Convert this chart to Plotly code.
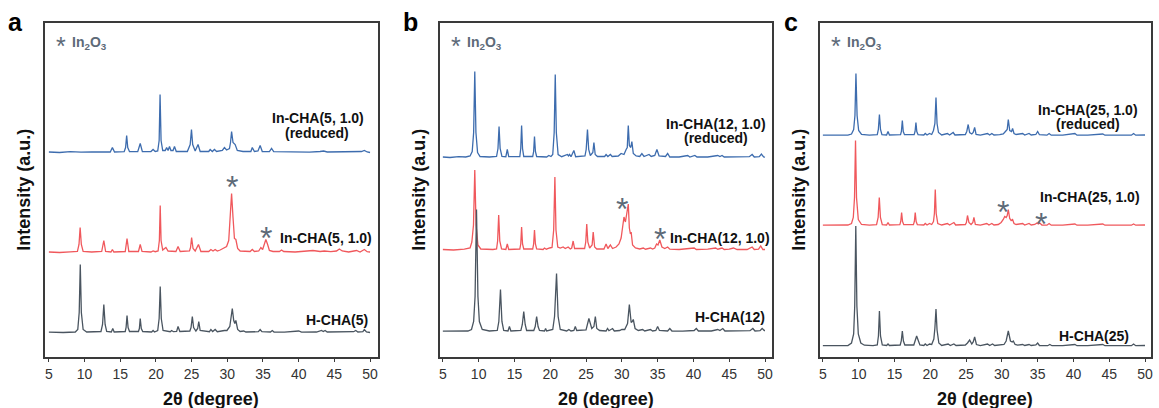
import plotly.graph_objects as go

# ---------------- data: (2theta, intensity above baseline) ----------------
a_reduced = [(5.0,0.5),(6.5,0),(8.0,0.8),(9.5,0.3),(11.0,0.6),(12.5,0.4),(13.6,0.5),(13.9,5),(14.2,0.5),(15.55,0.8),(15.75,5),(15.9,17),(16.05,5),(16.3,0.8),(17.45,0.8),(17.8,9),(18.1,0.8),(19.3,1),(19.6,3),(19.9,1),(20.25,1.5),(20.45,12),(20.58,58),(20.72,12),(20.95,2),(21.3,2),(21.5,5),(21.7,2),(21.9,6),(22.1,2),(22.4,2),(22.6,6),(22.85,1),(24.4,1),(24.8,8),(24.98,23),(25.15,8),(25.5,1.5),(25.9,8),(26.2,1),(27.4,1),(27.6,3),(27.9,1),(28.2,3),(28.5,1),(29.3,2),(29.6,5),(29.9,2.5),(30.3,4),(30.45,10),(30.6,21),(30.8,10),(31.1,8),(31.4,2),(32.2,1),(33.3,1),(33.5,5),(33.8,1),(34.3,1.5),(34.6,7),(34.9,1),(35.9,0.8),(36.2,4),(36.5,0.8),(38.0,0.5),(40.0,0.8),(41.5,0.3),(43.0,1),(43.5,1.5),(44.0,0.5),(46.0,0.8),(48.1,0.5),(48.8,1),(49.2,2),(49.6,0.5),(50.0,0)]
a_incha = [(5.0,0.5),(6.5,0),(8.0,0.6),(9.0,1),(9.22,8),(9.38,25),(9.55,8),(9.8,1),(11.0,0.5),(12.4,1),(12.7,12),(12.95,1),(13.7,0.5),(13.9,3),(14.1,0.5),(15.7,1),(15.95,14),(16.2,1),(17.55,1),(17.8,8),(18.05,1),(19.3,0.5),(19.6,1.5),(19.9,0.8),(20.3,1.5),(20.48,12),(20.6,47),(20.72,12),(20.95,2.5),(21.4,5),(21.7,1.5),(22.8,1),(23.1,6),(23.4,1),(24.7,1.5),(24.85,5),(25.0,15),(25.2,4),(25.5,1.5),(25.96,8),(26.3,1),(27.4,1),(27.7,3),(28.0,1.5),(28.3,3),(28.6,1.5),(29.0,2.5),(29.5,4),(29.9,6),(30.2,12),(30.4,35),(30.6,59),(30.8,35),(31.0,14),(31.2,13),(31.45,4),(31.8,1.5),(32.5,1),(33.2,1),(33.5,3),(33.8,1),(34.4,1.5),(34.7,5),(34.95,3),(35.15,8),(35.4,13),(35.65,8),(35.9,2),(36.4,1),(37.3,1),(37.6,2.5),(37.9,1),(39.5,0.5),(40.5,1),(42.0,2),(43.0,1),(43.6,1.5),(44.5,0.8),(45.3,1.5),(45.7,3.5),(46.1,1.5),(47.0,0.5),(48.1,2),(48.6,0.5),(49.2,3),(49.6,0.8),(50.0,0.5)]
a_hcha = [(5.0,0.3),(7.0,0),(8.7,0.5),(9.05,3),(9.25,20),(9.4,68),(9.55,20),(9.8,3),(10.3,0.5),(12.3,1),(12.52,8),(12.7,28),(12.88,8),(13.1,1),(13.75,0.5),(13.95,4),(14.15,0.5),(15.7,1),(15.82,5),(15.95,17),(16.1,5),(16.3,1),(17.55,1),(17.68,4),(17.8,14),(17.95,4),(18.15,1),(19.4,0.5),(19.6,2),(19.8,0.5),(20.25,2),(20.45,14),(20.6,46),(20.75,14),(21.0,2),(22.0,0.8),(22.2,2),(22.45,0.8),(22.9,1),(23.1,6),(23.35,1),(24.75,1.5),(24.92,5),(25.1,16),(25.28,5),(25.6,1.5),(25.85,4),(26.0,11),(26.2,2),(27.5,0.8),(27.7,3),(27.95,1),(28.3,3),(28.6,0.8),(29.6,2),(29.95,2),(30.35,6),(30.55,20),(30.7,24),(30.9,12),(31.05,9),(31.2,12),(31.45,3),(31.8,1),(32.3,1.5),(32.6,0.5),(34.35,0.8),(34.6,3),(34.85,0.8),(36.05,0.5),(36.3,2),(36.55,0.5),(38.0,0.3),(40.0,1.5),(40.4,0.3),(42.5,0.5),(43.2,2),(43.45,1),(43.7,2),(44.0,0.5),(46.0,0.3),(47.7,0.8),(48.0,2),(48.3,0.5),(49.0,0.8),(49.2,3),(49.5,0.5),(50.0,0)]

b_reduced = [(5.0,0.5),(6.0,0),(7.2,0.8),(8.2,0.5),(8.8,1.5),(9.1,6),(9.3,25),(9.46,86),(9.62,25),(9.85,5),(10.2,1),(11.5,0.5),(12.5,1),(12.7,9),(12.85,31),(13.0,9),(13.25,1),(13.8,0.8),(14.0,8),(14.2,0.8),(15.75,1),(15.88,9),(16.0,32),(16.13,9),(16.3,1),(17.55,1),(17.68,6),(17.8,21),(17.93,6),(18.1,1),(19.5,0.5),(19.8,2),(20.1,1),(20.35,3),(20.55,25),(20.7,83),(20.85,25),(21.1,3),(21.6,0.8),(22.4,3),(22.55,1.5),(22.7,3),(22.9,0.8),(23.3,7),(23.55,0.8),(24.85,1.5),(25.02,8),(25.2,28),(25.37,8),(25.6,2),(25.95,5),(26.1,15),(26.28,3),(26.6,1),(27.6,1),(27.8,3),(28.05,1),(28.4,3),(28.65,1),(29.5,1.5),(29.9,4),(30.3,3),(30.6,8),(30.76,10),(30.9,32),(31.05,12),(31.25,10),(31.4,16),(31.6,4),(32.0,1.5),(32.5,1),(32.8,4),(33.1,1),(33.8,3),(34.1,1),(34.6,2),(34.9,8),(35.2,1.5),(36.1,1),(36.4,4),(36.7,0.5),(38.0,0.5),(39.2,2),(39.5,0.5),(40.2,2),(40.5,0.5),(42.0,0.5),(43.4,2),(43.7,1),(44.0,2),(44.3,0.5),(46.0,0.3),(47.8,0.8),(48.2,3),(48.5,0.5),(49.2,0.8),(49.5,3.5),(49.8,0.5),(50.0,0.3)]
b_incha = [(5.0,0.5),(6.5,0),(8.0,0.8),(8.8,2),(9.05,8),(9.28,25),(9.46,80),(9.64,25),(9.9,5),(10.3,1),(12.0,0.5),(12.5,1),(12.65,9),(12.8,35),(12.95,9),(13.2,1),(13.8,0.5),(14.0,6),(14.2,0.5),(15.75,1),(15.88,6),(16.0,23),(16.13,6),(16.3,1),(17.55,1),(17.68,6),(17.8,20),(17.93,6),(18.1,1),(19.0,0.5),(19.2,2),(19.45,0.8),(19.9,2),(20.25,2.5),(20.48,20),(20.65,73),(20.8,20),(21.05,3),(21.4,2),(21.8,3),(22.1,1.5),(22.5,3),(22.8,1),(23.0,2),(23.2,9),(23.4,1.5),(24.8,1.5),(24.96,8),(25.1,26),(25.25,8),(25.5,2),(25.85,5),(26.0,18),(26.2,3),(26.5,1),(27.5,1),(27.8,6),(28.05,1.5),(28.4,5),(28.7,1.5),(29.2,3),(29.6,6),(29.9,12),(30.1,22),(30.3,33),(30.5,28),(30.7,38),(30.9,46),(31.05,22),(31.2,16),(31.3,18),(31.5,5),(31.9,2),(32.5,1),(33.0,2),(33.3,0.8),(34.0,2),(34.3,1),(34.6,2),(34.85,6),(35.05,5),(35.3,10),(35.6,3),(36.0,1.5),(36.4,3),(36.7,0.8),(38.0,0.5),(40.1,2),(40.4,0.5),(42.0,0.8),(43.1,2),(43.4,0.8),(44.0,2),(44.3,0.5),(45.0,0.8),(45.6,2),(46.1,0.5),(47.5,0.5),(48.2,3),(48.5,0.5),(49.1,0.8),(49.4,4),(49.7,0.5),(50.0,0.5)]
b_hcha = [(5.0,0.3),(7.0,0),(8.5,0.5),(9.0,2),(9.3,10),(9.5,35),(9.7,122),(9.9,35),(10.1,10),(10.5,2),(11.5,0.5),(12.6,1),(12.82,10),(13.05,42),(13.25,10),(13.5,1),(14.1,0.5),(14.3,5),(14.5,0.5),(15.9,1),(16.1,7),(16.3,20),(16.5,7),(16.7,1),(17.7,1),(17.9,5),(18.1,15),(18.3,5),(18.5,1),(19.2,0.5),(19.35,3),(19.5,0.5),(20.35,2),(20.6,15),(20.88,58),(21.1,15),(21.4,2),(22.3,0.5),(22.6,2),(22.9,0.5),(23.3,1),(23.5,5),(23.7,1),(25.0,1.5),(25.4,13),(25.8,3),(26.1,5),(26.3,15),(26.5,3),(26.9,1),(27.8,0.5),(28.0,3),(28.2,0.8),(28.7,3),(28.95,0.5),(29.7,1),(30.0,2),(30.4,2),(30.8,8),(31.05,27),(31.3,9),(31.45,10),(31.6,12),(31.85,3),(32.3,1),(32.9,2),(33.2,0.5),(34.0,2),(34.3,0.5),(34.75,1),(35.0,5),(35.25,1),(36.4,0.5),(36.7,3),(37.0,0.5),(38.5,0.3),(40.1,1),(40.4,3),(40.7,0.5),(42.5,0.5),(43.4,2),(43.7,1),(44.1,3),(44.4,0.5),(46.0,0.3),(47.9,0.8),(48.3,3),(48.6,0.5),(49.3,0.8),(49.6,3),(49.9,1),(50.0,1)]

c_reduced = [(5.0,0.3),(7.0,0),(8.5,0.3),(9.0,1.5),(9.3,6),(9.48,20),(9.62,62),(9.78,20),(10.0,5),(10.4,1),(11.5,0.3),(12.6,0.8),(12.75,6),(12.9,21),(13.05,6),(13.25,0.8),(13.9,0.5),(14.1,4),(14.3,0.5),(15.85,0.8),(15.97,4),(16.1,15),(16.23,4),(16.4,0.8),(17.75,0.8),(17.88,4),(18.0,13),(18.12,4),(18.3,0.8),(19.1,0.5),(19.3,2),(19.55,0.5),(19.9,2),(20.2,1),(20.45,5),(20.65,12),(20.8,38),(20.95,12),(21.15,3),(21.6,0.5),(22.4,2),(22.7,0.5),(23.2,3),(23.45,0.5),(24.9,1),(25.1,4),(25.3,11),(25.5,3),(25.8,1.5),(26.0,3),(26.2,8),(26.4,1),(27.0,0.3),(28.0,2),(28.3,0.5),(28.6,2),(28.9,0.5),(29.7,0.8),(30.2,1.5),(30.5,4),(30.75,6),(30.9,16),(31.1,5),(31.35,4),(31.5,7),(31.7,2),(32.0,1),(32.9,2),(33.2,0.5),(33.8,2),(34.1,0.5),(34.75,1),(35.0,4),(35.25,0.8),(36.3,0.3),(36.6,2),(36.9,0.3),(38.5,0.3),(40.2,2),(40.5,0.3),(42.0,0.3),(44.1,1.5),(44.4,0.3),(46.0,0.3),(48.1,0.3),(48.4,2),(48.7,0.3),(50.0,0.5)]
c_incha = [(5.0,0.3),(7.0,0),(8.5,0.5),(9.0,2),(9.25,8),(9.42,28),(9.56,85),(9.7,28),(9.95,6),(10.4,1),(11.5,0.3),(12.5,0.8),(12.72,8),(12.88,28),(13.04,8),(13.3,0.8),(13.9,0.5),(14.1,3),(14.3,0.5),(15.75,0.8),(15.88,4),(16.0,13),(16.13,4),(16.3,0.8),(17.65,0.8),(17.78,4),(17.9,13),(18.03,4),(18.2,0.8),(19.1,0.5),(19.3,2),(19.55,0.5),(19.9,2),(20.2,1),(20.45,4),(20.58,12),(20.7,36),(20.83,12),(21.05,2),(21.6,0.5),(22.4,2),(22.7,0.5),(23.3,3),(23.55,0.5),(24.9,1),(25.05,3),(25.2,10),(25.4,3),(25.7,1),(25.95,3),(26.1,8),(26.3,1),(27.0,0.3),(27.9,2),(28.2,0.5),(28.6,2),(28.9,0.5),(29.5,1),(29.9,3),(30.2,6),(30.4,9),(30.6,8),(30.75,10),(30.9,16),(31.1,7),(31.3,5),(31.5,6),(31.7,2),(32.0,1),(32.9,2),(33.2,0.5),(33.8,2),(34.1,0.5),(34.6,1),(34.9,2.5),(35.1,1.5),(35.3,2.5),(35.6,0.5),(36.3,0.3),(36.6,2),(36.9,0.3),(38.5,0.3),(40.2,1.5),(40.5,0.3),(42.0,0.3),(44.1,1.5),(44.4,0.3),(46.0,0.3),(48.1,0.3),(48.4,1.5),(48.7,0.3),(50.0,0.5)]
c_hcha = [(5.0,0.3),(7.0,0),(8.5,0.5),(9.0,3),(9.3,12),(9.45,40),(9.6,120),(9.75,40),(9.95,12),(10.3,3),(10.8,0.8),(12.0,0.3),(12.6,1),(12.76,10),(12.9,35),(13.05,10),(13.3,1),(13.9,0.5),(14.1,2),(14.3,0.5),(15.8,1),(15.95,5),(16.1,15),(16.25,5),(16.45,1),(17.7,1),(17.9,6),(18.1,10),(18.3,6),(18.55,1),(19.1,0.5),(19.3,2),(19.55,0.5),(19.9,2),(20.2,1.5),(20.5,7),(20.65,18),(20.8,37),(20.95,16),(21.2,3),(21.6,0.5),(22.5,2),(22.8,0.5),(23.3,2),(23.6,0.5),(24.9,1),(25.2,3),(25.5,6),(25.8,2),(26.0,4),(26.2,9),(26.45,1.5),(27.0,0.3),(28.0,2),(28.3,0.5),(28.7,2),(29.0,0.5),(29.8,0.8),(30.3,1.5),(30.6,5),(30.9,15),(31.2,5),(31.45,4),(31.6,5),(31.85,1.5),(32.2,0.8),(32.9,1.5),(33.2,0.5),(33.8,1.5),(34.1,0.5),(34.75,1),(35.0,3),(35.25,0.5),(36.4,0.3),(36.7,1.5),(37.0,0.3),(38.5,0.3),(40.2,1.5),(40.5,0.3),(42.0,0.3),(44.1,1.5),(44.4,0.3),(46.0,0.3),(48.1,0.3),(48.4,2),(48.7,0.3),(50.0,0.5)]

series_names = ["reduced", "In-CHA", "H-CHA"]
panel_letters = ["a", "b", "c"]
si_ratios = ["5", "12", "25"]
impurity_peaks = [[30.6, 35.4], [30.0, 35.4], [30.2, 35.4]]   # In2O3 reflections marked with *
x_ticks = [5, 10, 15, 20, 25, 30, 35, 40, 45, 50]

# ---------------- layout constants ----------------
W, H = 1159, 408
BLUE, RED, GRAY = "#3d6cae", "#f0585c", "#4a5560"
STAR = "#5d6a78"
FONT = "Arial, Liberation Sans, sans-serif"
offsets = [[204, 104, 24], [199, 106.5, 25], [221, 131, 10.5]]
xdom_px = [(44, 378), (440, 773), (821, 1153)]
xranges = [[4.441, 51.118], [4.582, 50.975], [4.582, 50.836]]
ytop_px, ybot_px = 23, 356.5
star_y = [[178.5, 127.5], [156.5, 126.5], [153.5, 141.5]]
label_pos = [  # (x_center_px, y_center_px) for reduced line1, line2, In-CHA, H-CHA
    [(318, 118), (317, 133), (326, 238), (337, 320)],
    [(717, 124), (717, 138), (721, 238), (731, 317)],
    [(1090, 110), (1090, 124), (1092, 197), (1096, 336)],
]

data = [[a_reduced, a_incha, a_hcha], [b_reduced, b_incha, b_hcha], [c_reduced, c_incha, c_hcha]]
colors = [BLUE, RED, GRAY]

def px(x):
    return x / W

def py(y):
    return 1 - y / H

fig = go.Figure()
annotations = []
for p in range(3):
    sfx = "" if p == 0 else str(p + 1)
    for s in range(3):
        pts = data[p][s]
        fig.add_trace(go.Scatter(
            x=[q[0] for q in pts],
            y=[q[1] + offsets[p][s] for q in pts],
            mode="lines", line=dict(color=colors[s], width=1.3),
            xaxis="x" + sfx, yaxis="y" + sfx, showlegend=False, hoverinfo="skip"))
    x0, x1 = xdom_px[p]
    fig.layout["xaxis" + sfx] = dict(
        domain=[px(x0), px(x1)], range=xranges[p], anchor="y" + sfx,
        showline=True, mirror=True, linecolor="#3a3a3a", linewidth=1.5,
        ticks="outside", ticklen=4, tickwidth=1, tickcolor="#3a3a3a",
        tickvals=x_ticks, tickfont=dict(family=FONT, size=14, color="#333333"),
        showgrid=False, zeroline=False)
    fig.layout["yaxis" + sfx] = dict(
        domain=[py(ybot_px), py(ytop_px)], range=[0, ybot_px - ytop_px], anchor="x" + sfx,
        showline=True, mirror=True, linecolor="#3a3a3a", linewidth=1.5,
        showticklabels=False, ticks="", showgrid=False, zeroline=False)
    cx = (x0 + x1) / 2
    # axis titles
    annotations.append(dict(x=px(cx), y=py(399), xref="paper", yref="paper", text="<b>2θ (degree)</b>",
                            showarrow=False, font=dict(family=FONT, size=18, color="#111111"),
                            xanchor="center", yanchor="middle"))
    annotations.append(dict(x=px(x0 - 21), y=py((ytop_px + ybot_px) / 2), xref="paper", yref="paper",
                            text="<b>Intensity (a.u.)</b>", textangle=-90, showarrow=False,
                            font=dict(family=FONT, size=18, color="#111111"),
                            xanchor="center", yanchor="middle"))
    # panel letter
    annotations.append(dict(x=px(x0 - 29), y=py(22), xref="paper", yref="paper",
                            text="<b>%s</b>" % panel_letters[p], showarrow=False,
                            font=dict(family=FONT, size=25, color="#000000"),
                            xanchor="center", yanchor="middle"))
    # In2O3 key
    annotations.append(dict(x=px(x0 + 9), y=py(46), xref="paper", yref="paper", text="*",
                            showarrow=False, font=dict(family=FONT, size=25, color=STAR),
                            xanchor="left", yanchor="middle"))
    annotations.append(dict(x=px(x0 + 25), y=py(43), xref="paper", yref="paper",
                            text="<b>In<sub>2</sub>O<sub>3</sub></b>", showarrow=False,
                            font=dict(family=FONT, size=14, color=STAR),
                            xanchor="left", yanchor="middle"))
    # series labels
    lp = label_pos[p]
    texts = ["<b>In-CHA(%s, 1.0)</b>" % si_ratios[p], "<b>(reduced)</b>",
             "<b>In-CHA(%s, 1.0)</b>" % si_ratios[p], "<b>H-CHA(%s)</b>" % si_ratios[p]]
    for t, (lx, ly) in zip(texts, lp):
        annotations.append(dict(x=px(lx), y=py(ly), xref="paper", yref="paper", text=t,
                                showarrow=False, font=dict(family=FONT, size=14, color="#111111"),
                                xanchor="center", yanchor="middle"))
    # impurity stars over peaks
    for xpk, ys in zip(impurity_peaks[p], star_y[p]):
        annotations.append(dict(x=xpk, y=ys, xref="x" + sfx, yref="y" + sfx, text="*",
                                showarrow=False, font=dict(family=FONT, size=32, color=STAR),
                                xanchor="center", yanchor="middle", yshift=-9))

fig.update_layout(width=W, height=H, margin=dict(l=0, r=0, t=0, b=0),
                  paper_bgcolor="white", plot_bgcolor="white", annotations=annotations)
fig.write_html("out.html")
